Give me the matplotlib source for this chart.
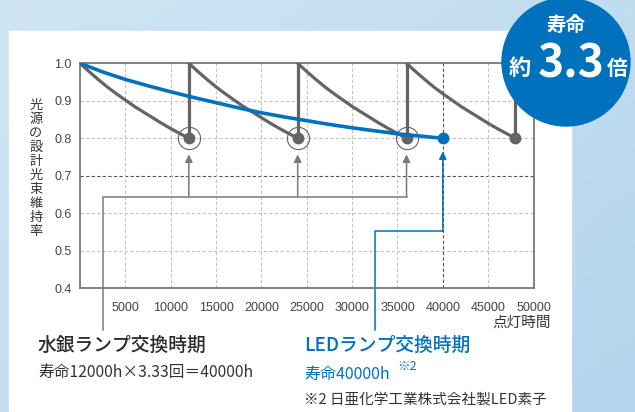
import numpy as np
import matplotlib
matplotlib.use("Agg")
import matplotlib.pyplot as plt
from matplotlib.patches import Circle, Rectangle

plt.rcParams['font.family'] = ['Noto Sans CJK JP', 'DejaVu Sans']

# ---------------------------------
# data
# ---------------------------------
# mercury lamp: every lamp decays along the same curve (hours since replacement, flux ratio)
cycleHours = [0, 1000, 2000, 3000, 4000, 5000, 6000, 7000, 8000, 9000, 10000, 11000, 12000]
cycleFlux = [1.0, 0.978, 0.957, 0.937, 0.919, 0.902, 0.885, 0.870, 0.855, 0.840, 0.826, 0.813, 0.80]
lampStarts = [0, 12000, 24000, 36000]
replaceHours = [12000, 24000, 36000, 48000]
circledHours = [12000, 24000, 36000]

# LED lamp
ledHours = [0, 2500, 5000, 7500, 10000, 12500, 15000, 17500, 20000, 22500,
            25000, 27500, 30000, 32500, 35000, 37500, 40000]
ledFlux = [1.0, 0.977, 0.957, 0.940, 0.924, 0.909, 0.895, 0.881, 0.868, 0.857,
           0.847, 0.837, 0.828, 0.820, 0.812, 0.806, 0.80]

xTicks = [5000, 10000, 15000, 20000, 25000, 30000, 35000, 40000, 45000, 50000]
yTicks = [0.4, 0.5, 0.6, 0.7, 0.8, 0.9, 1.0]

gray = '#646464'
blue = '#0071bc'
textColor = '#333333'
tickFont = ['Liberation Sans', 'DejaVu Sans']

W, H = 635, 412
fig = plt.figure(figsize=(W / 100, H / 100), dpi=100)

# background gradient + white panel
bg = fig.add_axes([0, 0, 1, 1], zorder=-5)
yy, xx = np.mgrid[0:1:100j, 0:1:100j]
c0 = np.array([0.82, 0.90, 0.955])
c1 = np.array([0.70, 0.835, 0.93])
t = np.clip(0.55 * xx + 0.45 * yy, 0, 1)[..., None]
bg.imshow(c0 * (1 - t) + c1 * t, extent=[0, W, H, 0], aspect='auto')
bg.add_patch(Rectangle((9, 31), 562, H - 31, color='white'))
bg.set_xlim(0, W)
bg.set_ylim(H, 0)
bg.axis('off')

# main chart
ax = fig.add_axes([80 / W, (H - 288.3) / H, (533.5 - 80) / W, (288.3 - 63.3) / H])
ax.set_facecolor('none')
ax.set_xlim(0, 50000)
ax.set_ylim(0.4, 1.0)

for v in [0.5, 0.6, 0.8, 0.9]:
    ax.axhline(v, color='#c2c2c2', lw=0.8, ls=(0, (3, 2)), zorder=1)
ax.axhline(0.7, color='#555555', lw=0.8, ls=(0, (3, 2)), zorder=1)
for h in xTicks[:-1]:
    c = '#555555' if h == 40000 else '#c2c2c2'
    ax.axvline(h, color=c, lw=0.8, ls=(0, (3, 2)), zorder=1)

for start in lampStarts:
    ax.plot([start + h for h in cycleHours], cycleFlux, color=gray, lw=2.3, zorder=3,
            solid_capstyle='round')
for h in replaceHours:
    ax.plot([h, h], [0.8, 1.0], color=gray, lw=2.3, zorder=3)
    ax.plot(h, 0.8, 'o', color=gray, ms=7.5, zorder=4)
for h in circledHours:
    ax.plot(h, 0.8, 'o', mfc='none', mec=gray, mew=0.8, ms=16, zorder=4)

ax.plot(ledHours, ledFlux, color=blue, lw=2.6, zorder=5)
ax.plot(ledHours[-1], ledFlux[-1], 'o', color=blue, ms=7.5, zorder=6)

# connector lines and arrows
ax.plot([2500, 2500, 36000], [0.289, 0.644, 0.644], color='#7a7a7a', lw=1.1,
        clip_on=False, zorder=2)
for h in circledHours:
    ax.annotate('', xy=(h, 0.757), xytext=(h, 0.644),
                arrowprops=dict(arrowstyle='-|>', color='#7a7a7a', lw=1.1,
                                mutation_scale=11, shrinkA=0, shrinkB=0))
ax.plot([32500, 32500, 40000], [0.289, 0.553, 0.553], color=blue, lw=1.1,
        clip_on=False, zorder=2)
ax.annotate('', xy=(40000, 0.765), xytext=(40000, 0.553),
            arrowprops=dict(arrowstyle='-|>', color=blue, lw=1.1,
                            mutation_scale=11, shrinkA=0, shrinkB=0))

ax.set_xticks(xTicks)
ax.set_xticklabels([str(v) for v in xTicks], family=tickFont)
ax.set_yticks(yTicks)
ax.set_yticklabels(['%.1f' % v for v in yTicks], family=tickFont)
ax.tick_params(length=0, labelsize=9, labelcolor='#444444')
ax.tick_params(axis='x', pad=10)
ax.tick_params(axis='y', pad=6)
for s in ax.spines.values():
    s.set_color('#777777')
    s.set_linewidth(1.3)

# overlay for texts and badge (pixel coordinates)
ov = fig.add_axes([0, 0, 1, 1], zorder=10)
ov.set_xlim(0, W)
ov.set_ylim(H, 0)
ov.axis('off')
ov.patch.set_alpha(0)

ov.text(36, 168, '\n'.join('光源の設計光束維持率'), ha='center', va='center',
        fontsize=9.5, color=textColor, linespacing=1.1)
ov.text(551, 323, '点灯時間', ha='right', va='center', fontsize=10.5, color=textColor)

ov.text(38, 345, '水銀ランプ交換時期', ha='left', va='center', fontsize=13.5,
        color='#2b2b2b', fontweight='medium')
ov.text(38, 373, '寿命12000h×3.33回＝40000h', ha='left', va='center', fontsize=11.3,
        color=textColor)
ov.text(304, 345, 'LEDランプ交換時期', ha='left', va='center', fontsize=13.5,
        color=blue, fontweight='medium')
ov.text(304, 375, '寿命40000h', ha='left', va='center', fontsize=11.5, color=blue)
ov.text(397, 367, '※2', ha='left', va='center', fontsize=9, color=blue)
ov.text(304, 400, '※2 日亜化学工業株式会社製LED素子', ha='left', va='center',
        fontsize=10.5, color=textColor)

ov.add_patch(Circle((566, 62), 64, color=blue, zorder=1))
ov.text(566, 25, '寿命', ha='center', va='center', fontsize=14, color='white',
        fontweight='bold', zorder=2)
ov.text(520, 68, '約', ha='center', va='center', fontsize=16, color='white',
        fontweight='bold', zorder=2)
ov.text(571, 64, '3.3', ha='center', va='center', fontsize=32, color='white',
        fontweight='bold', zorder=2)
ov.text(617, 68, '倍', ha='center', va='center', fontsize=15, color='white',
        fontweight='bold', zorder=2)

fig.savefig('out.png', dpi=100)
